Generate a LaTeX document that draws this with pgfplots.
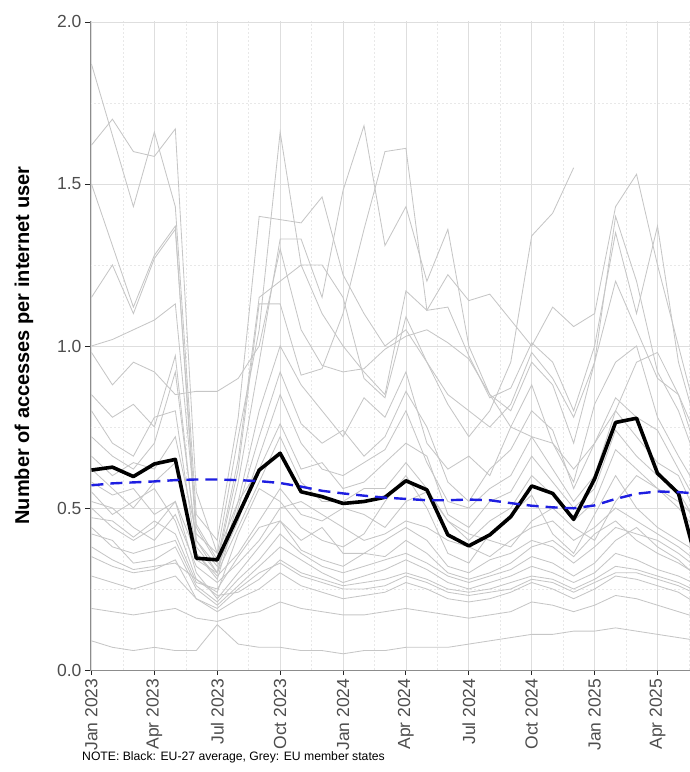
\documentclass[border=0pt]{standalone}
\usepackage{pgfplots}
\usepackage{pgfplotstable}
\pgfplotsset{compat=1.18}
\usepackage{fontspec}
\setmainfont{Liberation Sans}

\definecolor{greyline}{RGB}{198,198,198}
\definecolor{gridmaj}{RGB}{222,222,222}
\definecolor{gridmin}{RGB}{232,232,232}
\definecolor{axisc}{RGB}{140,140,140}
\definecolor{ticklab}{RGB}{77,77,77}
\definecolor{trendblue}{RGB}{30,30,225}

\pgfplotstableread[col sep=comma]{
name,c0,c1,c2,c3,c4,c5,c6,c7,c8,c9,c10,c11,c12,c13,c14,c15,c16,c17,c18,c19,c20,c21,c22,c23,c24,c25,c26,c27,c28,c29
s1,1.87,1.65,1.43,1.66,1.43,0.48,0.40,0.78,1.40,1.39,1.38,1.46,1.22,1.10,1.00,1.05,0.95,0.82,0.72,0.80,0.95,1.34,1.41,1.55,nan,nan,nan,nan,nan,nan
s2,1.62,1.70,1.60,1.585,1.67,0.55,0.36,0.72,1.05,1.66,1.25,1.10,1.00,0.92,0.85,1.17,1.11,1.22,1.14,1.16,1.08,1.00,1.12,1.06,1.10,1.43,1.53,1.25,1.00,0.75
s3,1.50,1.31,1.12,1.28,1.37,0.40,0.30,0.58,0.95,1.33,1.33,1.15,1.48,1.68,1.31,1.43,1.20,1.36,1.00,0.85,0.80,0.95,0.88,0.70,0.95,1.40,1.20,0.92,0.80,0.62
s4,1.15,1.25,1.10,1.27,1.36,0.44,0.33,0.62,1.13,1.13,0.91,0.93,1.10,1.36,1.60,1.61,1.11,1.12,0.97,0.84,0.87,1.01,0.95,0.80,1.00,1.35,1.10,1.37,0.95,0.72
s5,1.00,1.02,1.05,1.08,1.13,0.45,0.34,0.65,1.15,1.20,1.25,1.25,1.15,0.90,0.84,1.09,0.95,0.85,0.80,0.75,0.82,0.98,0.90,0.78,0.95,1.20,1.05,0.90,0.85,0.65
s6,0.98,0.88,0.95,0.92,0.85,0.86,0.86,0.90,1.00,1.30,1.05,0.94,0.92,0.93,0.99,1.03,1.05,1.01,0.96,0.85,0.75,0.72,0.70,0.62,0.70,0.80,0.95,0.98,0.85,0.70
s7,0.85,0.78,0.82,0.75,0.97,0.38,0.30,0.52,0.80,1.00,0.88,0.80,0.72,0.84,0.78,0.92,0.70,0.62,0.66,0.60,0.75,0.88,0.70,0.58,0.82,0.95,1.00,0.78,0.66,0.55
s8,0.80,0.70,0.66,0.78,0.80,0.36,0.28,0.50,0.72,0.92,0.76,0.70,0.74,0.66,0.72,0.86,0.75,0.58,0.52,0.62,0.68,0.80,0.74,0.56,0.70,0.84,0.78,0.74,0.62,0.50
s9,0.72,0.66,0.62,0.70,0.92,0.40,0.32,0.46,0.66,0.85,0.70,0.62,0.60,0.64,0.68,0.80,0.64,0.52,0.50,0.56,0.60,0.72,0.62,0.52,0.60,0.80,0.72,0.64,0.60,0.46
s10,0.66,0.60,0.64,0.62,0.72,0.42,0.36,0.52,0.62,0.76,0.62,0.64,0.56,0.58,0.64,0.70,0.66,0.48,0.44,0.52,0.55,0.66,0.58,0.50,0.56,0.74,0.66,0.60,0.55,0.44
s11,0.62,0.56,0.50,0.58,0.64,0.34,0.30,0.44,0.58,0.72,0.58,0.52,0.52,0.56,0.56,0.64,0.56,0.46,0.40,0.46,0.50,0.60,0.54,0.46,0.52,0.68,0.62,0.56,0.50,0.42
s12,0.58,0.54,0.56,0.48,0.52,0.36,0.29,0.36,0.46,0.56,0.48,0.46,0.50,0.48,0.44,0.52,0.55,0.46,0.42,0.40,0.38,0.46,0.50,0.44,0.40,0.52,0.60,0.56,0.52,0.46
s13,0.55,0.48,0.52,0.56,0.46,0.28,0.24,0.42,0.56,0.52,0.44,0.40,0.38,0.42,0.52,0.60,0.50,0.36,0.33,0.42,0.48,0.54,0.42,0.36,0.48,0.60,0.50,0.44,0.40,0.36
s14,0.52,0.50,0.44,0.40,0.48,0.32,0.27,0.33,0.40,0.50,0.52,0.48,0.44,0.40,0.42,0.46,0.44,0.40,0.38,0.35,0.40,0.44,0.46,0.40,0.44,0.50,0.46,0.42,0.38,0.33
s15,0.50,0.44,0.40,0.44,0.52,0.30,0.22,0.30,0.38,0.46,0.40,0.44,0.36,0.36,0.40,0.44,0.40,0.32,0.30,0.34,0.36,0.40,0.38,0.33,0.38,0.44,0.42,0.40,0.36,0.31
s16,0.47,0.46,0.41,0.46,0.42,0.27,0.25,0.35,0.44,0.46,0.37,0.34,0.32,0.36,0.35,0.40,0.36,0.30,0.28,0.30,0.33,0.38,0.40,0.35,0.42,0.46,0.40,0.36,0.33,0.29
s17,0.44,0.38,0.36,0.38,0.40,0.26,0.21,0.28,0.34,0.42,0.36,0.32,0.30,0.32,0.34,0.36,0.33,0.29,0.27,0.29,0.31,0.35,0.33,0.29,0.33,0.40,0.44,0.38,0.34,0.28
s18,0.42,0.40,0.33,0.34,0.38,0.25,0.20,0.26,0.32,0.38,0.34,0.30,0.27,0.29,0.31,0.34,0.31,0.27,0.25,0.27,0.29,0.32,0.30,0.27,0.30,0.36,0.34,0.31,0.29,0.26
s19,0.38,0.34,0.31,0.32,0.33,0.28,0.23,0.24,0.28,0.34,0.30,0.28,0.26,0.27,0.28,0.30,0.28,0.25,0.24,0.25,0.27,0.29,0.28,0.25,0.28,0.32,0.31,0.29,0.27,0.24
s20,0.35,0.32,0.30,0.31,0.34,0.22,0.19,0.25,0.30,0.33,0.29,0.27,0.25,0.25,0.26,0.29,0.27,0.24,0.23,0.24,0.25,0.28,0.27,0.24,0.27,0.30,0.30,0.28,0.26,0.23
s21,0.29,0.27,0.25,0.27,0.29,0.22,0.18,0.22,0.25,0.30,0.26,0.24,0.22,0.23,0.24,0.27,0.25,0.22,0.21,0.22,0.24,0.27,0.25,0.22,0.25,0.29,0.28,0.26,0.24,0.20
s22,0.19,0.18,0.17,0.18,0.19,0.16,0.15,0.17,0.18,0.21,0.19,0.18,0.17,0.17,0.18,0.19,0.18,0.17,0.16,0.17,0.18,0.21,0.20,0.18,0.20,0.23,0.22,0.20,0.18,0.16
s23,0.09,0.07,0.06,0.07,0.06,0.06,0.14,0.08,0.07,0.07,0.06,0.06,0.05,0.06,0.06,0.07,0.07,0.07,0.08,0.09,0.10,0.11,0.11,0.12,0.12,0.13,0.12,0.11,0.10,0.09
black,0.617,0.626,0.597,0.636,0.650,0.345,0.340,0.478,0.617,0.669,0.550,0.535,0.514,0.520,0.533,0.584,0.556,0.417,0.383,0.417,0.473,0.568,0.545,0.465,0.590,0.764,0.777,0.607,0.545,0.300
blue,0.570,0.576,0.579,0.582,0.586,0.588,0.588,0.586,0.583,0.577,0.566,0.553,0.545,0.538,0.532,0.528,0.524,0.524,0.526,0.524,0.515,0.507,0.502,0.499,0.508,0.528,0.544,0.551,0.549,0.544
}\rawdata
\pgfplotstabletranspose[colnames from=name]\data\rawdata

\begin{document}
\begin{tikzpicture}
\path[use as bounding box] (-90pt,-102pt) rectangle (600pt,670pt);
\begin{axis}[
  at={(0pt,0pt)}, anchor=south west,
  scale only axis, width=600pt, height=649pt,
  xmin=-0.07, xmax=28.55, ymin=0, ymax=2.003,
  axis x line*=bottom, axis y line*=left,
  axis line style={draw=axisc, line width=0.8pt},
  xtick={0,3,6,9,12,15,18,21,24,27},
  xticklabels={Jan 2023,Apr 2023,Jul 2023,Oct 2023,Jan 2024,Apr 2024,Jul 2024,Oct 2024,Jan 2025,Apr 2025},
  minor xtick={1.5,4.5,7.5,10.5,13.5,16.5,19.5,22.5,25.5,28.5},
  ytick={0,0.5,1,1.5,2},
  yticklabels={0.0,0.5,1.0,1.5,2.0},
  minor ytick={0.25,0.75,1.25,1.75},
  /pgf/number format/assume math mode=true,
  tick align=outside, major tick length=5pt, minor tick length=0pt,
  tick style={draw=black!85, line width=0.9pt},
  grid=both,
  major grid style={draw=gridmaj, line width=0.8pt},
  minor grid style={draw=gridmin, line width=0.6pt, dash pattern=on 2pt off 2pt},
  ticklabel style={font=\fontsize{17.5}{20}\selectfont, text=ticklab},
  xticklabel style={rotate=90, anchor=east},
  yticklabel style={anchor=east},
  ylabel={Number of accesses per internet user},
  every axis y label/.style={at={(axis description cs:-0.11,0.5)}, rotate=90, anchor=center, font=\fontsize{20}{24}\selectfont\bfseries},
  clip=true,
]
\pgfplotsinvokeforeach{1,...,23}{
  \addplot[greyline, line width=0.85pt] table[x expr=\coordindex, y=s#1] {\data};
}
\addplot[black, line width=3.6pt, line join=round] table[x expr=\coordindex, y=black] {\data};
\addplot[trendblue, line width=2.4pt, dash pattern=on 12pt off 7pt] table[x expr=\coordindex, y=blue] {\data};
\end{axis}
\node[anchor=west, font=\fontsize{12.2}{14}\selectfont, inner sep=0pt] at (-8pt,-87pt) {NOTE: Black: EU-27 average, Grey: EU member states};
\end{tikzpicture}
\end{document}
